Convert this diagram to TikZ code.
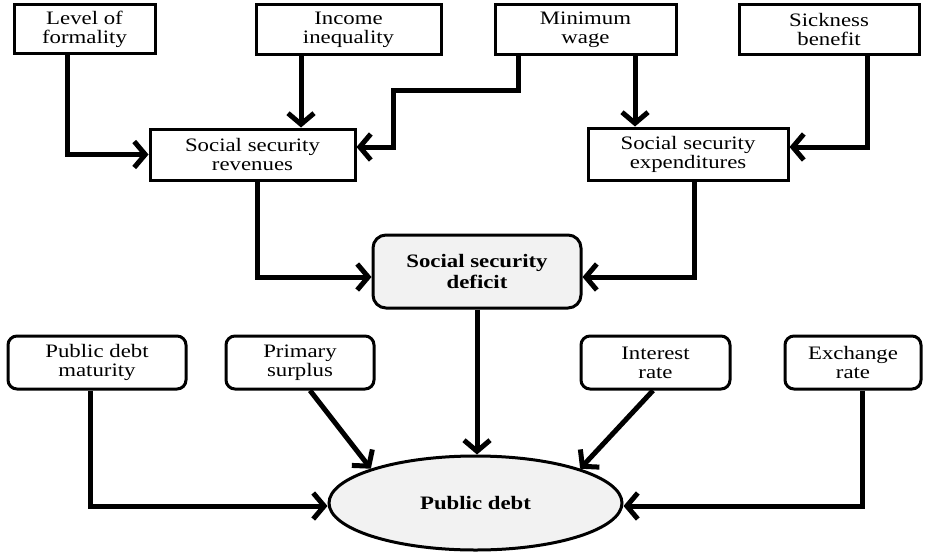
\documentclass[tikz,border=0pt]{standalone}
\usepackage{fontspec}
\setmainfont{Liberation Serif}[FakeStretch=1.2]
\usetikzlibrary{arrows.meta,shapes.geometric}
\definecolor{lightfill}{HTML}{F2F2F2}
\tikzset{
  sqbox/.style={draw=black, line width=3pt, rectangle, align=center,
    font=\fontsize{19}{19}\selectfont, inner sep=0pt},
  rbox/.style={sqbox, rounded corners=9pt},
  boldbox/.style={sqbox, rounded corners=13pt, fill=lightfill,
    font=\fontsize{19}{21}\selectfont\bfseries},
  ellbox/.style={draw=black, line width=3pt, ellipse, fill=lightfill,
    font=\fontsize{19}{21}\selectfont\bfseries, inner sep=0pt},
  conn/.style={line width=5pt, -{Straight Barb[length=11pt,width=26pt]}}
}
\begin{document}
\begin{tikzpicture}[x=1pt,y=-1pt]
\useasboundingbox (0,0) rectangle (925,551);
% top row
\node[sqbox, minimum width=141pt, minimum height=49pt] (lf) at (84.5,29.5) {Level of\\formality};
\node[sqbox, minimum width=185pt, minimum height=50pt] (ii) at (348.5,30) {Income\\inequality};
\node[sqbox, minimum width=181pt, minimum height=50pt] (mw) at (585.5,30) {Minimum\\wage};
\node[sqbox, minimum width=180pt, minimum height=50pt] (sb) at (829,30) {Sickness\\benefit};
% second row
\node[sqbox, minimum width=205pt, minimum height=51pt] (rev) at (252.5,154.5) {Social security\\revenues};
\node[sqbox, minimum width=200pt, minimum height=52pt] (exp) at (688,154) {Social security\\expenditures};
% deficit
\node[boldbox, minimum width=208pt, minimum height=73pt] (def) at (477,271.5) {Social security\\deficit};
% bottom row
\node[rbox, minimum width=178pt, minimum height=53pt] (pdm) at (97,362.5) {Public debt\\maturity};
\node[rbox, minimum width=148pt, minimum height=53pt] (ps) at (300,362.5) {Primary\\surplus};
\node[rbox, minimum width=149pt, minimum height=53pt] (ir) at (655.5,362.5) {Interest\\rate};
\node[rbox, minimum width=136pt, minimum height=53pt] (er) at (853,362.5) {Exchange\\rate};
% public debt
\node[ellbox, minimum width=293pt, minimum height=94pt] (pd) at (475.5,503) {Public debt};
% connectors
\coordinate (mwbend) at (393,90);
\draw[conn] ([xshift=-17.5pt]lf.south) |- (rev.west);
\draw[conn] ([xshift=-47.5pt]ii.south) -- ([xshift=-47.5pt]ii.south |- rev.north);
\draw[conn] ([xshift=-67.5pt]mw.south) |- (mwbend) |- ([yshift=7.5pt]rev.east);
\draw[conn] ([xshift=49.5pt]mw.south) -- ([xshift=49.5pt]mw.south |- exp.north);
\draw[conn] ([xshift=38pt]sb.south) |- ([yshift=7pt]exp.east);
\draw[conn] ([xshift=4.5pt]rev.south) |- ([yshift=-5.5pt]def.west);
\draw[conn] ([xshift=6pt]exp.south) |- ([yshift=-5.5pt]def.east);
\draw[conn] (def.south) -- (def.south |- pd.north);
\draw[conn] ([xshift=-7pt]pdm.south) |- ([yshift=-3pt]pd.west);
\draw[conn] ([xshift=10pt]ps.south) -- (pd.north west);
\draw[conn] ([xshift=-2.5pt]ir.south) -- (pd.north east);
\draw[conn] ([xshift=9pt]er.south) |- ([yshift=-3pt]pd.east);
\end{tikzpicture}
\end{document}
